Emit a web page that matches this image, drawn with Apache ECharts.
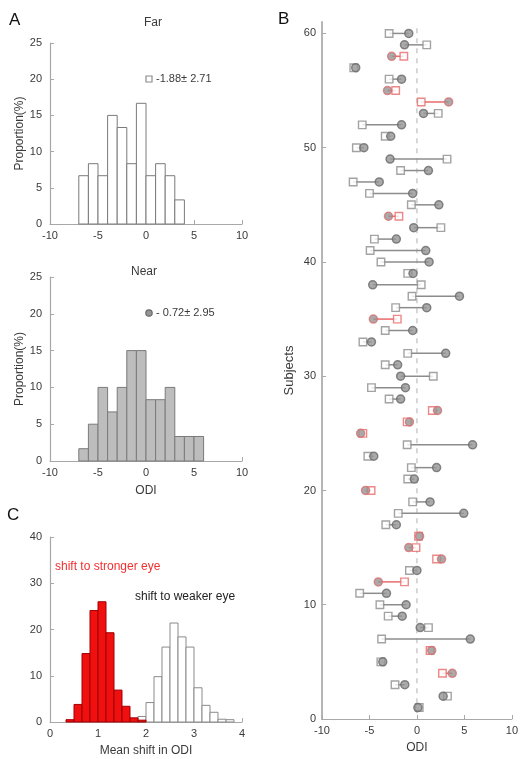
<!DOCTYPE html>
<html><head><meta charset="utf-8">
<script src="https://cdn.jsdelivr.net/npm/echarts/dist/echarts.min.js"></script>
<style>html,body{margin:0;padding:0;background:#fff}#c{width:521px;height:759px}</style>
</head><body><div id="c"></div>
<script>
// ---- Panel A: histograms (bin left edges, width 1, proportion %) ----
const farEdges = [-7,-6,-5,-4,-3,-2,-1,0,1,2,3];
const farPct   = [6.67,8.33,6.67,15,13.33,8.33,16.67,6.67,8.33,6.67,3.33];
const nearEdges = [-7,-6,-5,-4,-3,-2,-1,0,1,2,3,4,5];
const nearPct   = [1.67,5,10,6.67,10,15,15,8.33,8.33,10,3.33,3.33,3.33];
const binWidthA = 1;
const farLegend = '-1.88\u00b1 2.71';
const nearLegend = '- 0.72\u00b1 2.95';

// ---- Panel C: bootstrap histograms (bin width 1/6) ----
const cBinWidth = 1/6;
const redEdges = [0.3333,0.5,0.6667,0.8333,1.0,1.1667,1.3333,1.5,1.6667,1.8333];
const redPct   = [0.5,3.8,14.8,24.1,26.0,19.3,6.9,3.4,0.9,0.4];
const whiteEdges = [1.8333,2.0,2.1667,2.3333,2.5,2.6667,2.8333,3.0,3.1667,3.3333,3.5,3.6667];
const whitePct   = [1.2,4.2,9.8,16.2,21.4,18.4,16.2,7.4,3.6,2.1,0.6,0.5];

// ---- Panel B: per-subject ODI, far (square) and near (circle) ----
const subjects = Array.from({length:60},(_,i)=>i+1);
const farODI = [0.24,3.21,-2.31,2.69,-3.8,1.38,-3.72,1.21,-3.03,-3.9,
  -6.03,-1.31,-0.79,2.07,-0.1,0.17,-3.28,-1.97,-0.45,-4.83,
  -0.97,-0.59,-5.17,-1.03,-5.7,-1.03,1.62,-2.93,-4.79,1.72,
  -3.34,-0.97,-5.69,-3.34,-2.07,-2.24,-0.52,0.45,-0.97,-3.79,
  -4.93,-4.48,2.52,-1.9,-0.59,-5.0,-6.72,-1.72,3.17,-6.38,
  -3.34,-5.76,2.24,0.45,-2.24,-2.93,-6.65,-1.38,1.03,-2.93];
const nearODI = [0.1,2.76,-1.28,3.72,-3.6,1.55,5.62,0.34,-1.55,-1.14,
  -3.21,-4.07,0.0,2.59,-0.86,0.28,-2.17,4.93,1.38,-5.41,
  -0.28,2.07,-4.55,5.86,-5.93,-0.79,2.17,-1.72,-1.21,-1.72,
  -2.03,3.03,-4.79,-0.45,-4.59,1.03,4.48,-4.66,-0.41,1.28,
  0.93,-2.17,-0.34,-3.0,2.31,-0.45,-3.97,1.21,-2.83,-5.59,
  -2.76,-1.62,0.69,3.34,-3.1,-1.62,-6.45,-2.66,-1.31,-0.86];
const redSubjects = [4,6,12,14,15,16,20,25,26,27,35,44,54,55,58];
const subjectTicks = [0,10,20,30,40,50,60];
const zeroLine = [[0,0.5],[0,60.5]];

const FONT = 'Liberation Sans';
const TXT = '#3a3a3a';
const AX = '#a8a8a8';

function axisBase(extra){
  return Object.assign({
    type:'value',
    splitLine:{show:false},
    axisLine:{show:true,onZero:false,lineStyle:{color:AX,width:1.2}},
    axisTick:{show:true,inside:true,length:4,lineStyle:{color:AX}},
    axisLabel:{color:TXT,fontSize:11,fontFamily:FONT,margin:6},
    nameTextStyle:{color:TXT,fontSize:12,fontFamily:FONT}
  }, extra);
}

function histSeries(xi, yi, edges, pct, w, fill, stroke){
  return {
    type:'custom', xAxisIndex:xi, yAxisIndex:yi,
    data: edges.map((e,i)=>[e, e+w, pct[i]]),
    encode:{x:[0,1], y:2},
    renderItem:function(params, api){
      const p0 = api.coord([api.value(0), api.value(2)]);
      const p1 = api.coord([api.value(1), 0]);
      return {type:'rect', shape:{x:p0[0], y:p0[1], width:p1[0]-p0[0], height:p1[1]-p0[1]},
        style:{fill:fill, stroke:stroke, lineWidth:1}};
    }
  };
}

const isRed = s => redSubjects.indexOf(s) >= 0;
const lineData = subjects.map((s,i)=>[farODI[i], nearODI[i], s, isRed(s)?1:0]);

const option = {
  animation:false,
  backgroundColor:'#fff',
  grid:[
    {left:50, top:43, width:192, height:181},
    {left:50, top:277, width:192, height:184},
    {left:50, top:537, width:192, height:185},
    {left:322, top:22, width:193, height:698}
  ],
  xAxis:[
    axisBase({gridIndex:0, min:-10, max:10, interval:5}),
    axisBase({gridIndex:1, min:-10, max:10, interval:5, name:'ODI', nameLocation:'middle', nameGap:24}),
    axisBase({gridIndex:2, min:0, max:4, interval:1, name:'Mean shift in ODI', nameLocation:'middle', nameGap:23}),
    axisBase({gridIndex:3, min:-10, max:10, interval:5, name:'ODI', nameLocation:'middle', nameGap:23})
  ],
  yAxis:[
    axisBase({gridIndex:0, min:0, max:25, interval:5, name:'Proportion(%)', nameLocation:'middle', nameGap:24, axisLabel:{color:TXT,fontSize:11,fontFamily:FONT,margin:8}}),
    axisBase({gridIndex:1, min:0, max:25, interval:5, name:'Proportion(%)', nameLocation:'middle', nameGap:24, axisLabel:{color:TXT,fontSize:11,fontFamily:FONT,margin:8}}),
    axisBase({gridIndex:2, min:0, max:40, interval:10, axisLabel:{color:TXT,fontSize:11,fontFamily:FONT,margin:8}}),
    axisBase({gridIndex:3, min:0, max:61, name:'Subjects', nameLocation:'middle', nameGap:26,
      nameTextStyle:{color:TXT,fontSize:13,fontFamily:FONT},
      axisLine:{show:true,onZero:false,lineStyle:{color:'#b5b5b5',width:2}},
      axisTick:{show:true,inside:true,length:4,lineStyle:{color:AX},customValues:subjectTicks},
      axisLabel:{color:TXT,fontSize:11,fontFamily:FONT,margin:6,customValues:subjectTicks}})
  ],
  series:[
    histSeries(0,0,farEdges,farPct,binWidthA,'#ffffff','#7a7a7a'),
    histSeries(1,1,nearEdges,nearPct,binWidthA,'#bdbdbd','#7a7a7a'),
    histSeries(2,2,whiteEdges,whitePct,cBinWidth,'#ffffff','#8a8a8a'),
    histSeries(2,2,redEdges,redPct,cBinWidth,'#f01010','#a00000'),
    {
      type:'line', xAxisIndex:3, yAxisIndex:3, data:zeroLine, symbol:'none', silent:true,
      lineStyle:{color:'#b0b0b0', width:1, type:[5,5]}, z:1
    },
    {
      type:'custom', xAxisIndex:3, yAxisIndex:3, data:lineData, encode:{x:[0,1], y:2}, z:2,
      renderItem:function(params, api){
        const a = api.coord([api.value(0), api.value(2)]);
        const b = api.coord([api.value(1), api.value(2)]);
        const red = api.value(3) === 1;
        return {type:'line', shape:{x1:a[0],y1:a[1],x2:b[0],y2:b[1]},
          style:{stroke: red ? '#e86a6a' : '#8c8c8c', lineWidth:1.5}};
      }
    },
    {
      type:'scatter', xAxisIndex:3, yAxisIndex:3, symbol:'rect', symbolSize:7.5, z:3,
      data: subjects.map((s,i)=>({value:[farODI[i], s],
        itemStyle:{color:'#ffffff', borderColor: isRed(s)?'#e86a6a':'#8c8c8c', borderWidth:1.4}}))
    },
    {
      type:'scatter', xAxisIndex:3, yAxisIndex:3, symbol:'circle', symbolSize:8, z:4,
      data: subjects.map((s,i)=>({value:[nearODI[i], s],
        itemStyle:{color:'#959595', borderColor: isRed(s)?'#d77070':'#6a6a6a', borderWidth:1.5}}))
    }
  ],
  graphic:[
    {type:'text', left:9, top:12, style:{text:'A', font:'17px "Liberation Sans"', fill:'#111'}},
    {type:'text', left:278, top:11, style:{text:'B', font:'17px "Liberation Sans"', fill:'#111'}},
    {type:'text', left:7, top:507, style:{text:'C', font:'17px "Liberation Sans"', fill:'#111'}},
    {type:'text', x:153, y:23, style:{text:'Far', font:'12px "Liberation Sans"', fill:TXT, align:'center', verticalAlign:'middle'}},
    {type:'text', x:144, y:272, style:{text:'Near', font:'12px "Liberation Sans"', fill:TXT, align:'center', verticalAlign:'middle'}},
    {type:'rect', shape:{x:146, y:76, width:6, height:6}, style:{fill:'#fff', stroke:'#8c8c8c', lineWidth:1.2}},
    {type:'text', x:156, y:79, style:{text:farLegend, font:'11px "Liberation Sans"', fill:TXT, verticalAlign:'middle'}},
    {type:'circle', shape:{cx:149, cy:313, r:3.2}, style:{fill:'#959595', stroke:'#6a6a6a', lineWidth:1.2}},
    {type:'text', x:156, y:313, style:{text:nearLegend, font:'11px "Liberation Sans"', fill:TXT, verticalAlign:'middle'}},
    {type:'text', x:55, y:567, style:{text:'shift to stronger eye', font:'12px "Liberation Sans"', fill:'#f03030', verticalAlign:'middle'}},
    {type:'text', x:135, y:597, style:{text:'shift to weaker eye', font:'12px "Liberation Sans"', fill:'#222', verticalAlign:'middle'}}
  ]
};
const chart = echarts.init(document.getElementById('c'), null, {renderer:'canvas', width:521, height:759});
chart.setOption(option);
</script>
</body></html>
